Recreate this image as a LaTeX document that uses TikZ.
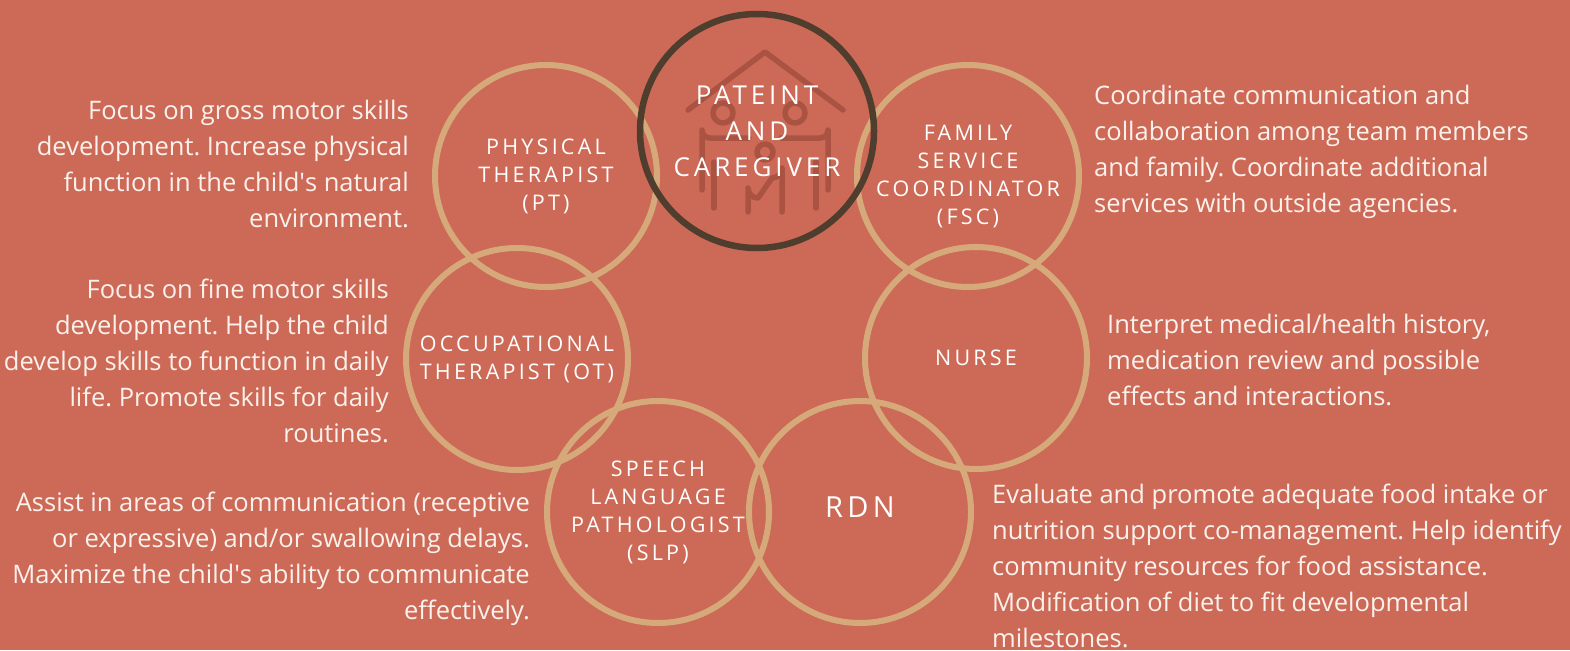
\documentclass[tikz,border=0pt]{standalone}
\usepackage{fontspec}
\setmainfont{Open Sans}
\newfontfamily\capsfont[LetterSpace=15]{Open Sans}
\usetikzlibrary{positioning}
\frenchspacing
\definecolor{bgred}{HTML}{CD6A57}
\definecolor{ringtan}{HTML}{D5A97A}
\definecolor{hubbrown}{HTML}{4F3E2D}
\definecolor{iconred}{HTML}{AA5343}
\definecolor{notewhite}{HTML}{FBF1EC}
\tikzset{
    ring/.style ={
        shape=circle,
        draw=ringtan,
        line width=6pt,
        minimum size=222pt,
        inner sep=0pt,
        text=white,
        align=center,
        font=\capsfont\fontsize{21.5}{28}\selectfont
    },
    hub/.style ={
        ring,
        draw=hubbrown,
        line width=6.5pt,
        minimum size=234pt,
        font=\capsfont\fontsize{26}{36}\selectfont
    },
    note/.style ={
        text=notewhite,
        inner sep=0pt,
        font=\fontsize{25.5}{36}\selectfont
    },
    icon/.style ={
        draw=iconred,
        line width=5.5pt,
        line cap=round,
        line join=round
    }
}

\begin{document}
\begin{tikzpicture}[x=1pt,y=-1pt]
    \fill[bgred] (0,0) rectangle (1570,650);
    \useasboundingbox (0,0) rectangle (1570,650);
    \draw[icon] (688,110) -- (765,52) -- (843,110);
    \draw[icon] (723,113) circle[radius=10];
    \draw[icon] (795,113) circle[radius=10];
    \draw[icon] (765,152) circle[radius=8];
    \draw[icon] (749,138) -- (710,138) arc[start angle=90,end angle=180,radius=8] -- (702,190);
    \draw[icon] (714,162) -- (714,208);
    \draw[icon] (781,138) -- (820,138) arc[start angle=90,end angle=0,radius=8] -- (828,190);
    \draw[icon] (816,162) -- (816,208);
    \draw[icon] (748,212) -- (748,188) arc[start angle=180,end angle=90,radius=10] -- (772,178) arc[start angle=90,end angle=0,radius=10] -- (782,212);
    \node[ring] (pt) at (546,176) {PHYSICAL\\THERAPIST\\(PT)};
    \node[ring] (fsc) at (968,176) {FAMILY\\SERVICE\\COORDINATOR\\(FSC)};
    \node[ring] (ot) at (517,359) {OCCUPATIONAL\\THERAPIST (OT)};
    \node[ring] (nurse) at (976,358) {NURSE};
    \node[ring] (slp) at (658,512) {SPEECH\\LANGUAGE\\PATHOLOGIST\\(SLP)};
    \node[ring,font=\capsfont\fontsize{29}{36}\selectfont] (rdn) at (860,512) {\raisebox{9pt}{RDN}};
    \node[hub] (hub) at (757,131) {PATEINT\\AND\\CAREGIVER};
    \node[note,anchor=east,align=right] (ptnote) at (409,164) {Focus on gross motor skills\\development. Increase physical\\function in the child\textquotesingle s natural\\environment.};
    \node[note,anchor=east,align=right] (otnote) at (389,361) {Focus on fine motor skills\\development. Help the child\\develop skills to function in daily\\life. Promote skills for daily\\routines.};
    \node[note,anchor=east,align=right] (slpnote) at (530,559) {Assist in areas of communication (receptive\\or expressive) and/or swallowing delays.\\Maximize the child\textquotesingle s ability to communicate\\effectively.};
    \node[note,anchor=west,align=left] (fscnote) at (1094,152) {Coordinate communication and\\collaboration among team members\\and family. Coordinate additional\\services with outside agencies.};
    \node[note,anchor=west,align=left] (nursenote) at (1107,360) {Interpret medical/health history,\\medication review and possible\\effects and interactions.};
    \node[note,anchor=west,align=left] (rdnnote) at (992,566) {Evaluate and promote adequate food intake or\\nutrition support co-management. Help identify\\community resources for food assistance.\\Modification of diet to fit developmental\\milestones.};
\end{tikzpicture}
\end{document}
